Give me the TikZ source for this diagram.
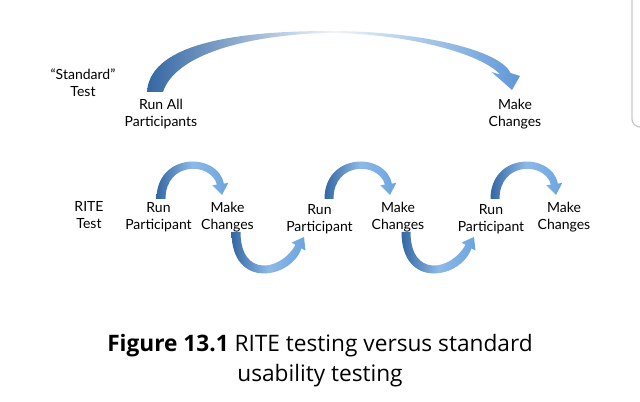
\documentclass[tikz,border=0pt]{standalone}
\usepackage{fontspec}
\setmainfont{Lato}
\newfontfamily\capfont{Open Sans}
\usetikzlibrary{positioning}
\definecolor{arcdark}{HTML}{3467A3}
\definecolor{arcpale}{HTML}{8DB9E6}
\definecolor{arclight}{HTML}{6CA4E0}
\definecolor{bigright}{HTML}{5F97D6}
\tikzstyle{lbl}=[align=center,font=\fontsize{10.5}{12.75}\selectfont,inner sep=0pt]
\tikzstyle{captxt}=[align=center,font=\capfont\fontsize{17}{23}\selectfont,inner sep=0pt]
\tikzstyle{bandfill}=[left color=arcdark,right color=arclight,middle color=arcpale]
\tikzstyle{bigfill}=[left color=arcdark,right color=bigright,middle color=white!85!arcpale]

\begin{document}
\begin{tikzpicture}[x=0.75pt,y=-0.75pt]
    \useasboundingbox (0,0) rectangle (640,402);
    % screen edge
    \draw[black!22,line width=0.9pt,rounded corners=6pt] (632,-2) -- (632,127) -- (642,127);
    % standard test
    \node[lbl] (std) at (83,82.5) {“Standard”\\Test};
    \node[lbl] (runall) at (161,114) {Run All\\Participants};
    \node[lbl] (make0) at (515,114) {Make\\Changes};
    \coordinate (big) at (155,92);
    \shade[bigfill,shift={(big)}] (-8,0) .. controls (-5,-52) and (95,-61) .. (175,-61)
        .. controls (265,-61) and (345,-42) .. (355.5,-19)
        -- (365,-16) -- (357,-2) -- (336.5,-20) -- (345,-17.5)
        .. controls (327,-38) and (255,-58) .. (175,-59.2)
        .. controls (90,-57) and (20,-37) .. (8,0) -- cycle;
    % RITE test
    \node[lbl] (rite) at (89,215.5) {RITE\\Test};
    \foreach \n/\x/\y in {run1/158.5/217, run2/319.5/219, run3/491/219}
        \node[lbl] (\n) at (\x,\y) {Run\\Participant};
    \foreach \n/\x in {make1/227.5, make2/398, make3/564}
        \node[lbl] (\n) at (\x,217) {Make\\Changes};
    \coordinate (up1) at (161,199);
    \coordinate (up2) at (329,199);
    \coordinate (up3) at (495,199);
    \coordinate (dn1) at (236,232);
    \coordinate (dn2) at (406,232);
    \foreach \c in {up1,up2,up3}
        \shade[bandfill,shift={(\c)}] (-4.5,0) .. controls (-4.5,-47) and (57,-47) .. (62.8,-15.4)
            -- (67.3,-16.1) -- (61,-4) -- (51.4,-13.7) -- (55.9,-14.4)
            .. controls (50,-37) and (4.5,-38) .. (4.5,0) -- cycle;
    \foreach \c in {dn1,dn2}
        \shade[bandfill,shift={(\c)}] (-4.5,0) .. controls (-4.5,58) and (55,47) .. (65.5,16.35)
            -- (69.5,18.6) -- (68,5) -- (55.5,10.6) -- (59.5,12.85)
            .. controls (45,39) and (4.5,46) .. (4.5,0) -- cycle;
    % caption
    \node[captxt] (caption) at (320,360.5) {\textbf{Figure 13.1} RITE testing versus standard\\usability testing};
\end{tikzpicture}
\end{document}
